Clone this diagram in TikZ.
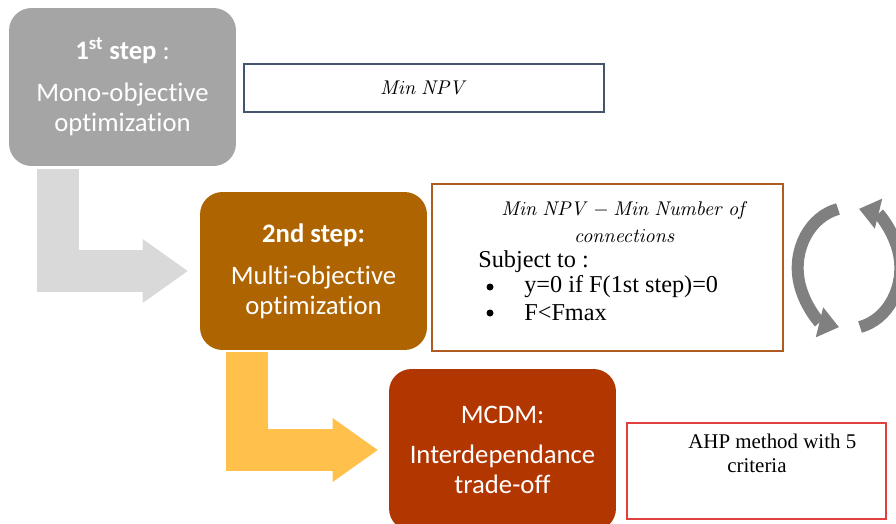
\RequirePackage{fix-cm}
\documentclass[tikz,border=0pt]{standalone}
\usepackage[no-math]{fontspec}
\setmainfont{Carlito}[Ligatures={NoCommon}]
\newfontfamily\tnr{Liberation Serif}
\usetikzlibrary{arrows.meta, positioning}

\definecolor{stepgray}{RGB}{165,165,165}
\definecolor{stepbrown}{RGB}{174,100,0}
\definecolor{steprust}{RGB}{178,54,0}
\definecolor{arrowgray}{RGB}{217,217,217}
\definecolor{arrowyellow}{RGB}{255,192,76}
\definecolor{loopgray}{RGB}{128,128,128}
\definecolor{slateline}{RGB}{68,84,106}
\definecolor{brownline}{RGB}{174,90,33}
\definecolor{redline}{RGB}{224,64,64}

\tikzset{
  stepbox/.style={rectangle, rounded corners=0.45cm, minimum width=4.54cm,
    minimum height=3.16cm, text=white, align=center,
    font=\fontsize{15.2}{17}\selectfont},
  infobox/.style={rectangle, draw, line width=0.8pt, fill=white},
  bigarrow/.style={line width=0.84cm,
    -{Triangle[width=1.28cm, length=0.9cm, line width=0pt]}},
  looparrow/.style={loopgray, line width=0.24cm,
    -{Triangle[width=0.62cm, length=0.4cm, line width=0pt]}},
  mathtext/.style={font=\fontsize{11.3}{15}\selectfont},
  serif/.style={inner sep=0pt, font=\tnr\fontsize{13.8}{15}\selectfont},
  dot/.style={circle, fill=black, inner sep=0pt, minimum size=0.14cm},
  ahptext/.style={inner sep=0pt, font=\tnr\fontsize{11.9}{14.2}\selectfont},
}

\begin{document}
\begin{tikzpicture}[x=0.02cm, y=-0.02cm]
\useasboundingbox (0,0) rectangle (896,524);

% the three steps
\node[stepbox, fill=stepgray] (mono) at (122.5,87)
  {\textbf{1\textsuperscript{st} step} :\\[7pt] Mono-objective\\optimization};
\node[stepbox, fill=stepbrown] (multi) at (313.5,271)
  {\textbf{2nd step:}\\[7pt] Multi-objective\\optimization};
\node[stepbox, fill=steprust, minimum height=3.24cm] (mcdm) at (502.5,450)
  {MCDM:\\[5.5pt] Interdependance\\trade-off};

% L-shaped arrows
\draw[bigarrow, arrowgray] ([xshift=0.98cm, yshift=-0.06cm]mono.south west)
  |- ([xshift=-0.24cm]multi.west);
\draw[bigarrow, arrowyellow] ([xshift=0.94cm, yshift=-0.04cm]multi.south west)
  |- ([xshift=-0.22cm]mcdm.west);

% objective of step 1
\node[infobox, draw=slateline, minimum width=7.2cm, minimum height=0.96cm,
  mathtext] (minnpv) at (424,88) {$\mathit{Min\ NPV}$};

% objectives and constraints of step 2
\node[infobox, draw=brownline, minimum width=7.02cm, minimum height=3.34cm]
  (goalbox) at (607.5,267.5) {};
\node[mathtext, align=center] (goal) at (625,222)
  {$\mathit{Min\ NPV} - \mathit{Min\ Number\ of}$\\$\mathit{connections}$};
\node[serif, anchor=west] (subj) at (478,262) {Subject to :};
\node[dot] (b1) at (490,287) {};
\node[serif, anchor=west] (c1) at (524,287) {y=0 if F(1st step)=0};
\node[dot] (b2) at (490,313) {};
\node[serif, anchor=west] (c2) at (524,313) {F<Fmax};

% iteration loop
\draw[looparrow] (838,209)
  arc[start angle=-103, end angle=-258, x radius=52, y radius=60.5];
\draw[looparrow] (860,327)
  arc[start angle=77, end angle=-78, x radius=52, y radius=60.5];

% method of step 3
\node[infobox, draw=redline, minimum width=5.18cm, minimum height=1.92cm]
  (ahpbox) at (756.5,471) {};
\node[ahptext, anchor=west] (ahp) at (688,441) {AHP method with 5};
\node[ahptext, anchor=west] (crit) at (727,466) {criteria};
\end{tikzpicture}
\end{document}
